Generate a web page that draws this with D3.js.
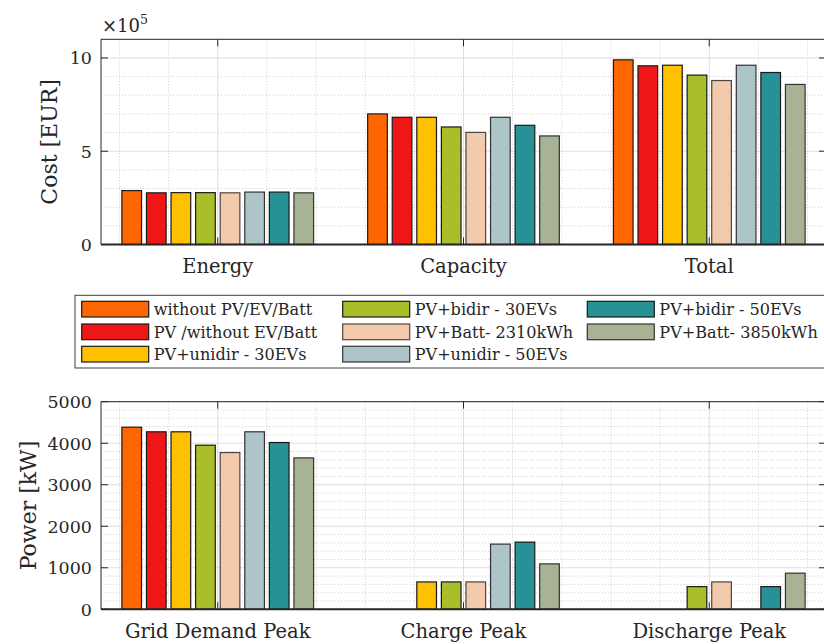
<!DOCTYPE html>
<html>
<head>
<meta charset="utf-8">
<script src="https://cdn.jsdelivr.net/npm/d3@7"></script>
<style>
  body { margin: 0; background: #fff; }
  svg { display: block; }
  text { font-family: "DejaVu Serif", serif; fill: #262626; }
</style>
</head>
<body>
<div id="wrapper"></div>
<script>
// series (scenarios), in legend order
const seriesNames = [
    "without PV/EV/Batt", "PV /without EV/Batt", "PV+unidir - 30EVs",
    "PV+bidir - 30EVs", "PV+Batt- 2310kWh", "PV+unidir - 50EVs",
    "PV+bidir - 50EVs", "PV+Batt- 3850kWh"
];
const seriesColors = ["#ff6600", "#ee1616", "#ffc000", "#aabe2c", "#f4caac", "#adc5c9", "#279196", "#a8b395"];
const seriesEdges  = ["#1a1a1a", "#1a1a1a", "#1a1a1a", "#1a1a1a", "#4d4540", "#333333", "#1a1a1a", "#333333"];

// cost panel [EUR]
const costCategories = ["Energy", "Capacity", "Total"];
const costEnergy   = [289000, 277000, 278000, 278000, 277000, 281000, 281000, 277000];
const costCapacity = [700000, 682000, 682000, 630000, 601000, 682000, 639000, 582000];
const costTotal    = [990000, 958000, 961000, 908000, 879000, 961000, 922000, 858000];
const costTicks = [0, 5, 10];   // x 10^5

// power panel [kW]
const powerCategories = ["Grid Demand Peak", "Charge Peak", "Discharge Peak"];
const powerGrid      = [4386, 4275, 4275, 3952, 3775, 4275, 4017, 3647];
const powerCharge    = [0, 0, 659, 659, 659, 1570, 1618, 1094];
const powerDischarge = [0, 0, 0, 546, 659, 0, 546, 870];
const powerTicks = [0, 1000, 2000, 3000, 4000, 5000];

const width = 824, height = 644;
const svg = d3.select("#wrapper").append("svg")
    .attr("width", width).attr("height", height);

// both panels share the x scale (category 1..3)
const xScaler = d3.scaleLinear().domain([0.525, 3.475]).range([101, 826]);
const barPitch = 0.1, barWidth = 0.08;

function drawPanel(opt) {
    const g = svg.append("g");
    const yScaler = d3.scaleLinear().domain([0, opt.yMax]).range([opt.bottom, opt.top]);
    const [x0, x1] = xScaler.range();

    // minor grid
    const minorY = d3.range(0, opt.yMax + 1e-9, opt.minorStep).filter(v => Math.abs(v / opt.majorStep - Math.round(v / opt.majorStep)) > 1e-6);
    g.selectAll(".minY").data(minorY).join("line")
        .attr("x1", x0).attr("x2", x1)
        .attr("y1", d => yScaler(d)).attr("y2", d => yScaler(d))
        .attr("stroke", "#cfcfcf").attr("stroke-dasharray", "1,2");
    const minorX = d3.range(0.6, 3.45, 0.2).filter(v => Math.abs(v - Math.round(v)) > 1e-6);
    g.selectAll(".minX").data(minorX).join("line")
        .attr("x1", d => xScaler(d)).attr("x2", d => xScaler(d))
        .attr("y1", opt.top).attr("y2", opt.bottom)
        .attr("stroke", "#cfcfcf").attr("stroke-dasharray", "1,2");
    // major grid
    g.selectAll(".majY").data(opt.ticks.slice(1)).join("line")
        .attr("x1", x0).attr("x2", x1)
        .attr("y1", d => yScaler(d * opt.tickScale)).attr("y2", d => yScaler(d * opt.tickScale))
        .attr("stroke", "#dedede");
    g.selectAll(".majX").data([1, 2, 3]).join("line")
        .attr("x1", d => xScaler(d)).attr("x2", d => xScaler(d))
        .attr("y1", opt.top).attr("y2", opt.bottom)
        .attr("stroke", "#dedede");

    // bars
    opt.values.forEach((vals, ci) => {
        g.append("g").selectAll("rect").data(vals).join("rect")
            .attr("x", (d, i) => xScaler(ci + 1 + (i - 3.5) * barPitch - barWidth / 2))
            .attr("width", xScaler(barWidth) - xScaler(0))
            .attr("y", d => yScaler(d))
            .attr("height", d => yScaler(0) - yScaler(d))
            .attr("fill", (d, i) => seriesColors[i])
            .attr("stroke", (d, i) => seriesEdges[i])
            .attr("stroke-width", 1.2);
    });

    // box lines
    g.append("line").attr("x1", x0).attr("x2", x1).attr("y1", opt.top).attr("y2", opt.top)
        .attr("stroke", "#262626").attr("stroke-width", 1);
    g.append("line").attr("x1", x0).attr("x2", x0).attr("y1", opt.top).attr("y2", opt.bottom)
        .attr("stroke", "#262626").attr("stroke-width", 1);
    g.append("line").attr("x1", x0).attr("x2", x1).attr("y1", opt.bottom).attr("y2", opt.bottom)
        .attr("stroke", "#262626").attr("stroke-width", 2);

    // ticks (inward)
    const tl = 7;
    opt.ticks.forEach(t => {
        const y = yScaler(t * opt.tickScale);
        g.append("line").attr("x1", x0).attr("x2", x0 + tl).attr("y1", y).attr("y2", y).attr("stroke", "#262626");
        g.append("line").attr("x1", x1 - tl).attr("x2", x1).attr("y1", y).attr("y2", y).attr("stroke", "#262626");
        g.append("text").attr("x", 92).attr("y", y + 6.3)
            .attr("text-anchor", "end").attr("font-size", 17.5).text(t);
    });
    [1, 2, 3].forEach((c, i) => {
        const x = xScaler(c);
        g.append("line").attr("x1", x).attr("x2", x).attr("y1", opt.top).attr("y2", opt.top + tl).attr("stroke", "#262626");
        g.append("line").attr("x1", x).attr("x2", x).attr("y1", opt.bottom - tl).attr("y2", opt.bottom).attr("stroke", "#262626");
        g.append("text").attr("x", x).attr("y", opt.bottom + 28.5)
            .attr("text-anchor", "middle").attr("font-size", 19.5).text(opt.categories[i]);
    });

    // y label
    g.append("text")
        .attr("transform", `translate(${opt.ylabelX}, ${(opt.top + opt.bottom) / 2}) rotate(-90)`)
        .attr("text-anchor", "middle").attr("font-size", 22).text(opt.ylabel);
    return g;
}

drawPanel({
    top: 39.3, bottom: 244.5, yMax: 1100000, majorStep: 500000, minorStep: 100000,
    ticks: costTicks, tickScale: 1e5,
    categories: costCategories, values: [costEnergy, costCapacity, costTotal],
    ylabel: "Cost [EUR]", ylabelX: 57
});
// exponent label
svg.append("text").attr("x", 102).attr("y", 32).attr("font-size", 18)
    .text("\u00d710")
    .append("tspan").attr("dy", -8).attr("font-size", 12.5).text("5");

drawPanel({
    top: 401.7, bottom: 609.3, yMax: 5000, majorStep: 1000, minorStep: 200,
    ticks: powerTicks, tickScale: 1,
    categories: powerCategories, values: [powerGrid, powerCharge, powerDischarge],
    ylabel: "Power [kW]", ylabelX: 35.5
});

// legend (3 rows, column-major)
const legend = svg.append("g");
legend.append("rect").attr("x", 75).attr("y", 295.3).attr("width", 760).attr("height", 72.7)
    .attr("fill", "#fff").attr("stroke", "#404040").attr("stroke-width", 1);
const colX = [81.7, 342.7, 587.3];
const rowY = [301.3, 324, 346.3];
seriesNames.forEach((name, i) => {
    const col = Math.floor(i / 3), row = i % 3;
    legend.append("rect")
        .attr("x", colX[col]).attr("y", rowY[row]).attr("width", 67).attr("height", 15.7)
        .attr("fill", seriesColors[i]).attr("stroke", seriesEdges[i]).attr("stroke-width", 1.2);
    legend.append("text")
        .attr("x", colX[col] + 72).attr("y", rowY[row] + 13.5)
        .attr("font-size", 16.1).text(name);
});
</script>
</body>
</html>
